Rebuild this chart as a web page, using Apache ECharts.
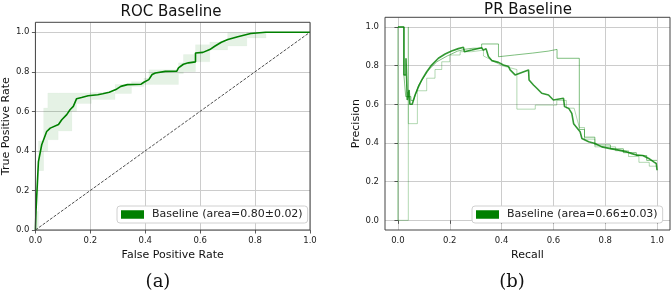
<!DOCTYPE html>
<html><head><meta charset="utf-8">
<script src="https://cdn.jsdelivr.net/npm/echarts@6/dist/echarts.min.js"></script>
<style>html,body{margin:0;padding:0;background:#fff}#c{width:671px;height:294px}</style>
</head><body><div id="c"></div>
<script>
// ---------- ROC data ----------
const rocFpr = [0,0.002,0.002,0.008,0.011,0.016,0.023,0.03,0.041,0.045,0.054,0.084,0.096,0.114,0.126,0.138,0.150,0.168,0.192,0.227,0.245,0.269,0.293,0.311,0.335,0.385,0.395,0.413,0.425,0.437,0.473,0.515,0.521,0.539,0.557,0.583,0.583,0.61,0.635,0.653,0.677,0.701,0.737,0.784,0.838,1.0];
const rocTpr = [0,0,0.093,0.093,0.346,0.346,0.431,0.44,0.498,0.5,0.515,0.533,0.557,0.583,0.608,0.625,0.664,0.67,0.679,0.684,0.689,0.696,0.71,0.726,0.735,0.737,0.747,0.76,0.786,0.794,0.802,0.803,0.82,0.838,0.845,0.85,0.895,0.898,0.912,0.929,0.949,0.963,0.977,0.993,1.0,1.0];
const bandFpr   = [0,    0.011,0.03, 0.045,0.083,0.133,0.15, 0.204,0.29, 0.35, 0.395,0.413,0.43, 0.521,0.539,0.583,0.635,0.70, 0.77, 0.84, 1.0];
const bandUpper = [0.093,0.45, 0.617,0.693,0.693,0.693,0.693,0.695,0.735,0.75, 0.768,0.81, 0.81, 0.845,0.887,0.937,0.95, 0.997,1.0,  1.0,  1.0];
const bandLower = [0,    0.30, 0.40, 0.456,0.50, 0.60, 0.64, 0.66, 0.69, 0.725,0.735,0.735,0.735,0.79, 0.80, 0.85, 0.91, 0.93, 0.97, 1.0,  1.0];
const chanceLine = [[0,0],[1,1]];
const rocLabel = 'Baseline (area=0.80±0.02)';

// ---------- PR data ----------
const prRecall = [0,0.023,0.023,0.031,0.031,0.036,0.036,0.043,0.046,0.055,0.066,0.079,0.092,0.111,0.130,0.156,0.182,0.207,0.233,0.253,0.256,0.285,0.323,0.33,0.34,0.349,0.362,0.388,0.407,0.427,0.433,0.452,0.504,0.506,0.523,0.536,0.555,0.581,0.600,0.639,0.643,0.659,0.671,0.678,0.703,0.71,0.736,0.761,0.787,0.82,0.852,0.884,0.903,0.923,0.945,0.968,0.987,0.997,1.0];
const prPrecision = [1.0,1.0,0.752,0.752,0.838,0.838,0.622,0.674,0.60,0.60,0.648,0.69,0.726,0.769,0.803,0.838,0.86,0.876,0.888,0.895,0.872,0.881,0.893,0.88,0.888,0.847,0.826,0.817,0.803,0.795,0.778,0.752,0.778,0.726,0.70,0.683,0.657,0.648,0.622,0.631,0.588,0.579,0.553,0.50,0.458,0.423,0.406,0.397,0.38,0.371,0.363,0.354,0.345,0.337,0.335,0.32,0.302,0.294,0.259];
const foldARecall    = [0,0,0.023,0.023,0.03,0.03,0.05,0.05,0.06,0.08,0.1,0.12,0.15,0.19,0.23,0.26,0.29,0.323,0.323,0.388,0.388,0.45,0.52,0.58,0.614,0.614,0.70,0.70,0.72,0.72,0.76,0.76,0.82,0.82,0.87,0.87,0.92,0.92,0.96,0.96,1.0];
const foldAPrecision = [0,1,1,0.75,0.75,0.64,0.64,0.62,0.62,0.70,0.74,0.78,0.82,0.85,0.875,0.885,0.89,0.89,0.912,0.912,0.846,0.855,0.865,0.875,0.884,0.838,0.838,0.47,0.47,0.43,0.43,0.39,0.39,0.37,0.37,0.35,0.35,0.335,0.335,0.31,0.31];
const foldBRecall    = [0,0.04,0.04,0.04,0.075,0.075,0.111,0.111,0.143,0.143,0.169,0.169,0.2,0.2,0.24,0.24,0.285,0.285,0.33,0.33,0.36,0.40,0.459,0.459,0.53,0.53,0.613,0.613,0.65,0.65,0.68,0.70,0.72,0.72,0.76,0.76,0.84,0.84,0.89,0.89,0.93,0.93,0.97,0.97,1.0];
const foldBPrecision = [0,0,1,0.5,0.5,0.67,0.67,0.735,0.735,0.78,0.78,0.82,0.82,0.855,0.855,0.872,0.872,0.88,0.88,0.85,0.83,0.80,0.78,0.575,0.575,0.596,0.596,0.62,0.62,0.58,0.58,0.48,0.48,0.42,0.42,0.38,0.38,0.36,0.36,0.33,0.33,0.30,0.30,0.28,0.28];
const prLabel = 'Baseline (area=0.66±0.03)';

const ticks = [0,0.2,0.4,0.6,0.8,1.0];
const zip = (a,b) => a.map((v,i)=>[v,b[i]]);

const FONT = 'DejaVu Sans';
const tickLabel = {fontFamily:FONT,fontSize:8.5,color:'#222',margin:6,customValues:ticks,formatter:v=>v.toFixed(1)};
const axisTick = {show:true,length:3.5,lineStyle:{color:'#333',width:0.8},customValues:ticks};
const splitLine = {show:true,lineStyle:{color:'#cccccc',width:1}};

function mkX(gi,min,max,name){
  return {type:'value',gridIndex:gi,min:min,max:max,name:name,nameLocation:'middle',nameGap:14,
    nameTextStyle:{fontFamily:FONT,fontSize:11,color:'#111'},
    axisLine:{show:false},axisTick:axisTick,axisLabel:tickLabel,splitLine:splitLine};
}
function mkY(gi,min,max,name,gap){
  return {type:'value',gridIndex:gi,min:min,max:max,name:name,nameLocation:'middle',nameGap:gap,
    nameTextStyle:{fontFamily:FONT,fontSize:11,color:'#111'},
    axisLine:{show:false},axisTick:axisTick,axisLabel:tickLabel,splitLine:splitLine};
}

const chart = echarts.init(document.getElementById('c'),null,{renderer:'canvas'});
chart.setOption({
  animation:false,
  backgroundColor:'#fff',
  grid:[
    {left:31.7,top:22.3,width:278.3,height:207.7,show:true,borderColor:'#444',borderWidth:1,backgroundColor:'transparent',z:5},
    {left:385,top:17.3,width:285,height:212.7,show:true,borderColor:'#444',borderWidth:1,backgroundColor:'transparent',z:5}
  ],
  xAxis:[mkX(0,0,1,'False Positive Rate'),mkX(1,-0.05,1.05,'Recall')],
  yAxis:[mkY(0,0,1.05,'True Positive Rate',21),mkY(1,-0.05,1.05,'Precision',22.5)],
  graphic:[
    {type:'text',x:171,y:12,style:{text:'ROC Baseline',fontFamily:FONT,fontSize:15,fill:'#111',align:'center',verticalAlign:'middle'}},
    {type:'text',x:528,y:10,style:{text:'PR Baseline',fontFamily:FONT,fontSize:15,fill:'#111',align:'center',verticalAlign:'middle'}},
    {type:'text',x:158,y:282,style:{text:'(a)',fontFamily:'DejaVu Serif',fontSize:18,fill:'#111',align:'center',verticalAlign:'middle'}},
    {type:'text',x:512,y:282,style:{text:'(b)',fontFamily:'DejaVu Serif',fontSize:18,fill:'#111',align:'center',verticalAlign:'middle'}}
  ],
  legend:[
    {data:[{name:rocLabel,itemStyle:{color:'#008000'}}],left:117,top:206,orient:'vertical',selectedMode:false,
     icon:'rect',itemWidth:23,itemHeight:8.5,padding:[3,5,3,4],backgroundColor:'#fff',borderColor:'#d0d0d0',borderWidth:1,borderRadius:3,
     textStyle:{fontFamily:FONT,fontSize:11,color:'#222',padding:[0,0,0,3]}},
    {data:[{name:prLabel,itemStyle:{color:'#008000'}}],left:472,top:206,orient:'vertical',selectedMode:false,
     icon:'rect',itemWidth:23,itemHeight:8.5,padding:[3,5,3,4],backgroundColor:'#fff',borderColor:'#d0d0d0',borderWidth:1,borderRadius:3,
     textStyle:{fontFamily:FONT,fontSize:11,color:'#222',padding:[0,0,0,3]}}
  ],
  series:[
    {type:'custom',name:'band',xAxisIndex:0,yAxisIndex:0,data:[[0,0]],silent:true,z:1,
     renderItem:function(params,api){
       const pts=[];
       for(let i=0;i<bandFpr.length;i++){
         pts.push(api.coord([bandFpr[i],bandUpper[i]]));
         if(i<bandFpr.length-1) pts.push(api.coord([bandFpr[i+1],bandUpper[i]]));
       }
       for(let i=bandFpr.length-1;i>=0;i--){
         if(i<bandFpr.length-1) pts.push(api.coord([bandFpr[i+1],bandLower[i]]));
         pts.push(api.coord([bandFpr[i],bandLower[i]]));
       }
       return {type:'polygon',shape:{points:pts},style:{fill:'rgba(0,128,0,0.1)',stroke:'rgba(0,128,0,0.05)',lineWidth:0.5}};
     }},
    {type:'line',name:'chance',xAxisIndex:0,yAxisIndex:0,data:chanceLine,symbol:'none',z:3,
     lineStyle:{color:'#222',width:0.8,type:[3,1.5]}},
    {type:'line',name:rocLabel,xAxisIndex:0,yAxisIndex:0,data:zip(rocFpr,rocTpr),symbol:'none',z:4,
     lineStyle:{color:'#008000',width:1.6},itemStyle:{color:'#008000'}},
    {type:'line',name:'foldA',xAxisIndex:1,yAxisIndex:1,data:zip(foldARecall,foldAPrecision),symbol:'none',z:2,
     lineStyle:{color:'rgba(0,128,0,0.5)',width:1}},
    {type:'line',name:'foldB',xAxisIndex:1,yAxisIndex:1,data:zip(foldBRecall,foldBPrecision),symbol:'none',z:2,
     lineStyle:{color:'rgba(0,128,0,0.3)',width:1}},
    {type:'line',name:prLabel,xAxisIndex:1,yAxisIndex:1,data:zip(prRecall,prPrecision),symbol:'none',z:4,
     lineStyle:{color:'rgba(0,128,0,0.8)',width:1.6},itemStyle:{color:'#008000'}}
  ]
});
</script></body></html>
